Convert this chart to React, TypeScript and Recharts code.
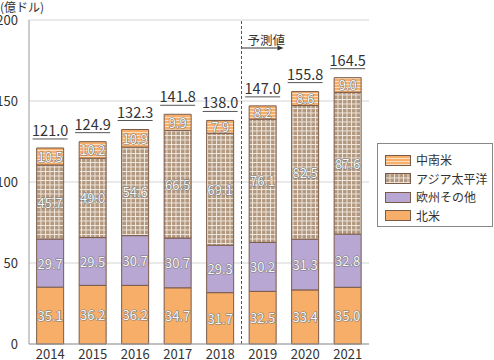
import React from 'react';
import { BarChart, Bar, XAxis, YAxis, CartesianGrid, Legend, LabelList, ReferenceLine } from 'recharts';

const years = ['2014', '2015', '2016', '2017', '2018', '2019', '2020', '2021'];
const northAmerica = [35.1, 36.2, 36.2, 34.7, 31.7, 32.5, 33.4, 35.0];
const europeOther = [29.7, 29.5, 30.7, 30.7, 29.3, 30.2, 31.3, 32.8];
const asiaPacific = [45.7, 49.0, 54.6, 66.5, 69.1, 76.1, 82.5, 87.6];
const latinAmerica = [10.5, 10.2, 10.9, 9.9, 7.9, 8.2, 8.6, 9.0];
const totals = [121.0, 124.9, 132.3, 141.8, 138.0, 147.0, 155.8, 164.5];
const yTicks = [0, 50, 100, 150, 200];
const forecastStartYear = '2019';

const data = years.map((year, i) => ({
  year,
  na: northAmerica[i],
  eu: europeOther[i],
  ap: asiaPacific[i],
  la: latinAmerica[i],
  total: totals[i],
}));

const FONT = '"Noto Sans CJK JP", "Noto Sans", sans-serif';
const ORANGE = '#F6AE68';
const PURPLE = '#B8A7D2';
const BROWN = '#B39880';
const EDGE = '#7A5B4A';

const legendItems = [
  { name: '中南米', fill: 'url(#stripe)' },
  { name: 'アジア太平洋', fill: 'url(#grid)' },
  { name: '欧州その他', fill: PURPLE },
  { name: '北米', fill: ORANGE },
];

const SegmentLabel = (props: any) => {
  const { x, y, width, height, value } = props;
  return (
    <text
      x={x + width / 2}
      y={y + height / 2}
      textAnchor="middle"
      dominantBaseline="central"
      fontSize={13}
      fontFamily={FONT}
      fill="#f6f6f6"
      stroke="#777"
      strokeWidth={1.1}
      paintOrder="stroke"
    >
      {Number(value).toFixed(1)}
    </text>
  );
};

const TotalLabel = (props: any) => {
  const { x, y, width, value } = props;
  const cx = x + width / 2;
  return (
    <g>
      <text x={cx} y={y - 12} textAnchor="middle" fontSize={14.5} fontFamily={FONT} fill="#333">
        {Number(value).toFixed(1)}
      </text>
      <line x1={x - 4} x2={x + width + 4} y1={y - 9} y2={y - 9} stroke="#555" strokeWidth={1} />
    </g>
  );
};

const ForecastLabel = (props: any) => {
  const { viewBox } = props;
  const x = viewBox.x;
  const y = viewBox.y;
  return (
    <g>
      <text x={x + 6} y={y + 25} fontSize={12.5} fontFamily={FONT} fill="#333">予測値</text>
      <line x1={x} x2={x + 38} y1={y + 28} y2={y + 28} stroke="#333" strokeWidth={1} />
      <path d={`M${x + 42},${y + 28} L${x + 36},${y + 25.5} L${x + 36},${y + 30.5} Z`} fill="#333" />
    </g>
  );
};

const LegendBox = () => (
  <div
    style={{
      border: '1px solid #888',
      background: '#fff',
      width: 116,
      height: 84,
      boxSizing: 'border-box',
      padding: '7px 0 0 7px',
      fontFamily: FONT,
      fontSize: 12,
      color: '#333',
      whiteSpace: 'nowrap',
    }}
  >
    {legendItems.map((item) => (
      <div key={item.name} style={{ display: 'flex', alignItems: 'center', height: 18.5 }}>
        <svg width={26} height={11} style={{ marginRight: 5, flexShrink: 0 }}>
          <rect x={0.5} y={0.5} width={25} height={10} fill={item.fill} stroke={EDGE} strokeWidth={1} />
        </svg>
        <span style={{ lineHeight: '18px' }}>{item.name}</span>
      </div>
    ))}
  </div>
);

export default function App() {
  return (
    <div style={{ position: 'absolute', left: 0, top: 0, width: 494, height: 360, background: '#fff', overflow: 'hidden' }}>
      <BarChart
        width={494}
        height={360}
        data={data}
        margin={{ top: 20, right: 125, bottom: 0, left: 0 }}
        barCategoryGap="18%"
      >
        <defs>
          <pattern id="grid" width={4.5} height={4.5} patternUnits="userSpaceOnUse">
            <rect width={4.5} height={4.5} fill={BROWN} />
            <path d="M0,0.5 H4.5 M0.5,0 V4.5" stroke="#F3ECE4" strokeWidth={0.9} />
          </pattern>
          <pattern id="stripe" width={4} height={3} patternUnits="userSpaceOnUse">
            <rect width={4} height={3} fill={ORANGE} />
            <path d="M0,0.5 H4" stroke="#FBE3CB" strokeWidth={0.9} />
          </pattern>
        </defs>
        <CartesianGrid vertical={false} stroke="#d4d4d4" />
        <XAxis
          dataKey="year"
          height={16}
          tickLine={false}
          axisLine={{ stroke: '#999' }}
          tick={{ fontSize: 13, fill: '#333', fontFamily: FONT }}
          tickMargin={0}
          interval={0}
        />
        <YAxis
          width={29}
          domain={[0, 200]}
          ticks={yTicks}
          tickLine={false}
          axisLine={{ stroke: '#999' }}
          tick={{ fontSize: 13, fill: '#333', fontFamily: FONT }}
          tickMargin={5}
          interval={0}
        />
        <ReferenceLine
          x={forecastStartYear}
          position="start"
          stroke="#555"
          strokeDasharray="3 2"
          label={<ForecastLabel />}
        />
        <Bar dataKey="na" name="北米" stackId="a" fill={ORANGE} stroke={EDGE} strokeWidth={1} isAnimationActive={false}>
          <LabelList dataKey="na" content={<SegmentLabel />} />
        </Bar>
        <Bar dataKey="eu" name="欧州その他" stackId="a" fill={PURPLE} stroke={EDGE} strokeWidth={1} isAnimationActive={false}>
          <LabelList dataKey="eu" content={<SegmentLabel />} />
        </Bar>
        <Bar dataKey="ap" name="アジア太平洋" stackId="a" fill="url(#grid)" stroke={EDGE} strokeWidth={1} isAnimationActive={false}>
          <LabelList dataKey="ap" content={<SegmentLabel />} />
        </Bar>
        <Bar dataKey="la" name="中南米" stackId="a" fill="url(#stripe)" stroke={EDGE} strokeWidth={1} isAnimationActive={false}>
          <LabelList dataKey="la" content={<SegmentLabel />} />
          <LabelList dataKey="total" content={<TotalLabel />} />
        </Bar>
        <Legend
          layout="vertical"
          align="center"
          verticalAlign="middle"
          content={<LegendBox />}
          wrapperStyle={{ left: 377, top: 143, width: 116, height: 84 }}
        />
      </BarChart>
      <div
        style={{ position: 'absolute', left: 0, top: -1, fontFamily: FONT, fontSize: 12, color: '#333', lineHeight: '15px' }}
      >
        (億ドル)
      </div>
    </div>
  );
}
